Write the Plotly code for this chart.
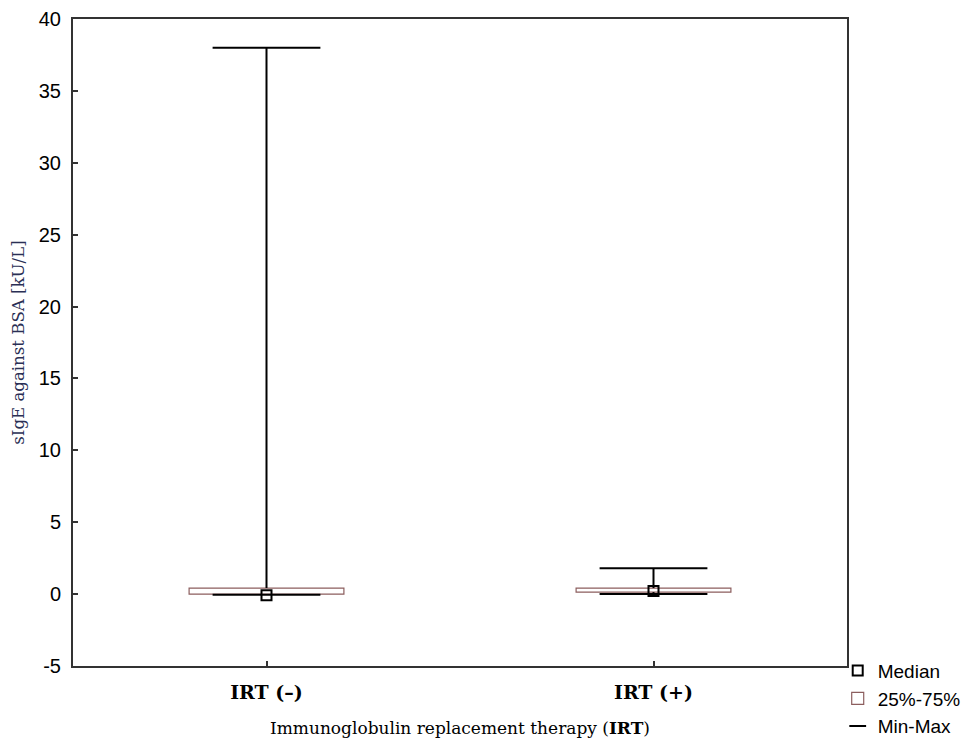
import plotly.graph_objects as go

categories = ["IRT (–)", "IRT (+)"]
x_pos = [0, 1]
mins = [-0.05, 0.0]
q1 = [0.0, 0.14]
medians = [-0.08, 0.22]
q3 = [0.42, 0.42]
maxs = [38.0, 1.8]
y_ticks = [-5, 0, 5, 10, 15, 20, 25, 30, 35, 40]
y_tick_labels = ["-5", "0", "5", "10", "15", "20", "25", "30", "35", "40"]

fig = go.Figure()

# 25%-75% boxes
fig.add_trace(go.Bar(
    x=x_pos, y=[b - a for a, b in zip(q1, q3)], base=q1, width=0.4,
    marker=dict(color="white", line=dict(color="#8c5e5e", width=1.2)),
    name="25%-75%", showlegend=True, legendrank=2,
))

# whiskers (vertical lines)
wx, wy = [], []
for xi, lo, a, b, hi in zip(x_pos, mins, q1, q3, maxs):
    wx += [xi, xi, None, xi, xi, None]
    wy += [b, hi, None, lo, a, None]
fig.add_trace(go.Scatter(x=wx, y=wy, mode="lines", line=dict(color="black", width=2),
                         showlegend=False, hoverinfo="skip"))

# caps
fig.add_trace(go.Scatter(
    x=x_pos + x_pos, y=maxs + mins, mode="markers",
    marker=dict(symbol="line-ew-open", size=77, color="black",
                line=dict(color="black", width=2)),
    name="Min-Max", showlegend=False, hoverinfo="skip",
))

# legend entry for Min-Max
fig.add_trace(go.Scatter(
    x=[None], y=[None], mode="markers",
    marker=dict(symbol="line-ew-open", size=12, color="black",
                line=dict(color="black", width=2)),
    name="Min-Max", showlegend=True, legendrank=3,
))

# median
fig.add_trace(go.Scatter(
    x=x_pos, y=medians, mode="markers",
    marker=dict(symbol="square-open", size=10, color="black",
                line=dict(color="black", width=2)),
    name="Median", showlegend=True, legendrank=1,
))

fig.update_layout(
    width=966, height=740,
    margin=dict(l=73, r=119, t=19, b=74, autoexpand=False),
    plot_bgcolor="white", paper_bgcolor="white",
    showlegend=True,
    legend=dict(x=0.988, xanchor="left", y=0.022, yanchor="top",
                font=dict(family="Liberation Sans, Arial", size=19, color="black"),
                tracegroupgap=0, itemwidth=30, bgcolor="rgba(0,0,0,0)"),
    xaxis=dict(
        range=[-0.5, 1.5], tickmode="array", tickvals=x_pos,
        ticktext=["<b>" + c + "</b>" for c in categories],
        ticks="inside", ticklen=5, tickwidth=1.5, tickcolor="#333",
        showline=True, linecolor="#333", linewidth=2, mirror=True,
        showgrid=False, zeroline=False, automargin=False,
        ticklabelstandoff=8,
        tickfont=dict(family="DejaVu Serif, serif", size=19, color="black"),
        title=dict(text="Immunoglobulin replacement therapy (<b>IRT</b>)",
                   font=dict(family="DejaVu Serif, serif", size=17, color="black"),
                   standoff=20),
    ),
    yaxis=dict(
        range=[-5, 40], tickmode="array", tickvals=y_ticks, ticktext=y_tick_labels,
        ticks="inside", ticklen=5, tickwidth=1.5, tickcolor="#333",
        showline=True, linecolor="#333", linewidth=2, mirror=True,
        showgrid=False, zeroline=False, automargin=False,
        ticklabelstandoff=6,
        tickfont=dict(family="Liberation Sans, Arial", size=20, color="black"),
        title=dict(text="sIgE against BSA [kU/L]",
                   font=dict(family="DejaVu Serif, serif", size=16.6, color="#2a2f55"),
                   standoff=10),
    ),
    barmode="overlay",
)

fig.write_html("out.html",
               config={"displayModeBar": False},
               post_script="document.body.style.margin='0';document.body.style.overflow='hidden';")
